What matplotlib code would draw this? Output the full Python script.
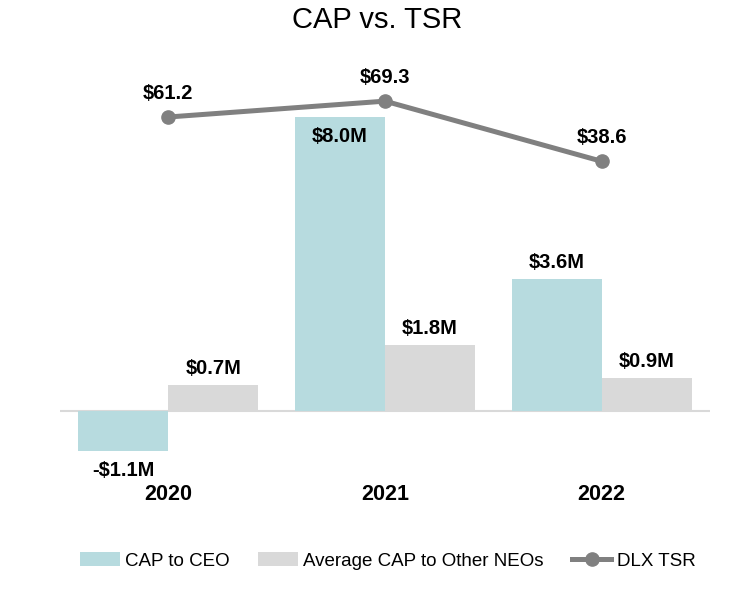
import numpy as np
import matplotlib
matplotlib.use('Agg')
import matplotlib.pyplot as plt
from matplotlib.transforms import blended_transform_factory

plt.rcParams['font.family'] = ['Liberation Sans', 'DejaVu Sans']

# Datos
anios = ['2020', '2021', '2022']
cap_ceo = [-1.1, 8.0, 3.6]
cap_neos = [0.7, 1.8, 0.9]
dlx_tsr = [61.2, 69.3, 38.6]

col_ceo = '#B7DBDF'
col_neos = '#D9D9D9'
col_tsr = '#808080'

fig = plt.figure(figsize=(7.5, 5.95), dpi=100)
ax = fig.add_axes([0.08, 0.1933, 0.8667, 0.7059])
ax2 = ax.twinx()

x = np.arange(len(anios))
w = 0.415
ax.bar(x - w / 2, cap_ceo, w, color=col_ceo, label='CAP to CEO')
ax.bar(x + w / 2, cap_neos, w, color=col_neos, label='Average CAP to Other NEOs')
ax.axhline(0, color='#D9D9D9', lw=1.5, zorder=0)

ax.set_xlim(-0.5, 2.5)
ax.set_ylim(-1.88, 9.55)
ax2.set_ylim(-124, 90.3)

fs = 14.5
# Etiquetas de barras
for xi, v in zip(x - w / 2, cap_ceo):
    txt = f'${v:.1f}M' if v >= 0 else f'-${abs(v):.1f}M'
    if v < 0:
        ax.annotate(txt, (xi, v), xytext=(0, -7), textcoords='offset points',
                    ha='center', va='top', fontsize=fs, fontweight='bold')
    elif v == max(cap_ceo):
        ax.annotate(txt, (xi, v), xytext=(0, -7), textcoords='offset points',
                    ha='center', va='top', fontsize=fs, fontweight='bold')
    else:
        ax.annotate(txt, (xi, v), xytext=(0, 5), textcoords='offset points',
                    ha='center', va='bottom', fontsize=fs, fontweight='bold')
for xi, v in zip(x + w / 2, cap_neos):
    ax.annotate(f'${v:.1f}M', (xi, v), xytext=(0, 5), textcoords='offset points',
                ha='center', va='bottom', fontsize=fs, fontweight='bold')

# Linea TSR
ax2.plot(x, dlx_tsr, color=col_tsr, lw=3.6, marker='o', ms=9.5, label='DLX TSR')
for xi, v in zip(x, dlx_tsr):
    ax2.annotate(f'${v:.1f}', (xi, v), xytext=(0, 10), textcoords='offset points',
                 ha='center', va='bottom', fontsize=fs, fontweight='bold')

# Años debajo
trans = blended_transform_factory(ax.transData, fig.transFigure)
for xi, a in zip(x, anios):
    fig.text(xi, 1 - 495 / 595, a, transform=trans, ha='center', va='center',
             fontsize=15.5, fontweight='bold')

for a in (ax, ax2):
    a.set_yticks([])
    a.set_xticks([])
    for s in a.spines.values():
        s.set_visible(False)

fig.text(377 / 750, 1 - 20 / 595, 'CAP vs. TSR', ha='center', va='center', fontsize=21)

h1, l1 = ax.get_legend_handles_labels()
h2, l2 = ax2.get_legend_handles_labels()
fig.legend(h1 + h2, l1 + l2, loc='center', bbox_to_anchor=(388 / 750, 1 - 561 / 595),
           ncol=3, frameon=False, fontsize=13.5, handlelength=2.1, columnspacing=1.5,
           handletextpad=0.3)

plt.savefig('out.png')
